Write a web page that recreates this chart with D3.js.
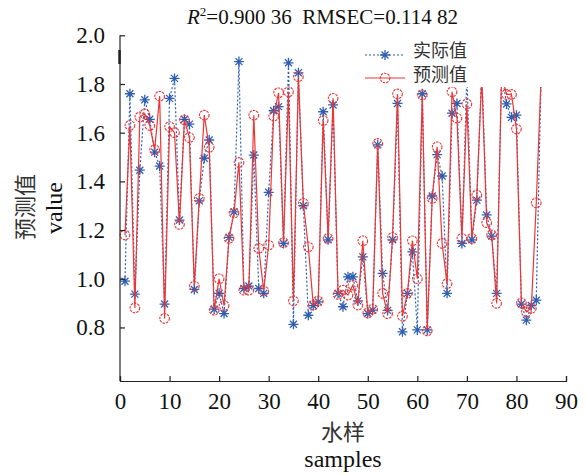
<!DOCTYPE html>
<html><head><meta charset="utf-8">
<script src="https://cdn.jsdelivr.net/npm/d3@7"></script>
<style>body{margin:0;background:#fff}svg{display:block}</style>
</head><body>
<script>
const samples = d3.range(1, 86);
const actual = [0.99,1.76,0.937,1.446,1.735,1.655,1.52,1.463,0.896,1.741,
1.823,1.241,1.655,1.635,0.956,1.32,1.495,1.57,0.875,0.94,
0.857,1.17,1.275,1.892,0.96,0.97,1.508,0.96,0.94,1.355,
1.69,1.707,1.145,1.887,0.813,1.846,1.30,0.85,0.89,0.905,
1.686,1.16,1.714,0.94,0.885,1.008,1.008,0.909,1.09,0.857,
0.871,1.55,1.022,0.87,1.16,1.72,0.782,0.94,1.11,0.79,
1.76,0.79,1.34,1.51,1.422,0.94,1.68,1.72,1.145,1.84,
1.16,1.323,1.86,1.262,1.175,0.94,1.85,1.718,1.663,1.672,
0.896,0.83,0.89,0.912,1.86];
const predicted = [1.18,1.63,0.88,1.665,1.677,1.63,1.53,1.75,0.837,1.625,
1.60,1.223,1.652,1.58,0.97,1.33,1.672,1.54,0.871,1.0,
0.89,1.166,1.27,1.478,0.953,0.953,1.672,1.125,0.95,1.138,
1.668,1.764,1.148,1.768,0.909,1.83,1.31,1.131,0.892,0.909,
1.65,1.166,1.741,0.936,0.953,0.933,0.974,0.892,1.156,0.86,
0.875,1.556,0.94,0.857,1.17,1.759,0.846,0.94,1.156,1.0,
1.755,0.786,1.33,1.542,1.145,0.98,1.768,1.66,1.166,1.718,
1.166,1.344,1.83,1.23,1.18,0.899,1.84,1.757,1.757,1.615,
0.901,0.864,0.878,1.312,1.84];
const xTicks = [0,10,20,30,40,50,60,70,80,90];
const yTicks = [0.8,1.0,1.2,1.4,1.6,1.8,2.0];
const legendLabels = ["实际值","预测值"];
const titleParts = {r2:"0.900 36", rmsec:"0.114 82"};

const W=587,H=475;
const blue="#2f5fb3", red="#ee3535";
const serif="'Liberation Serif','Times New Roman',serif";
const cjk="'Noto Sans CJK SC','Noto Sans CJK JP',sans-serif";
const svg=d3.select("body").append("svg").attr("width",W).attr("height",H);
const x=d3.scaleLinear().domain([0,90]).range([120,566]);
const y=d3.scaleLinear().domain([0.58,2.0]).range([381,35.3]);

// actual series
const lineA=d3.line().x((d,i)=>x(samples[i])).y(d=>y(d));
svg.append("path").datum(actual).attr("d",lineA).attr("fill","none")
 .attr("stroke",blue).attr("stroke-width",1.2).attr("stroke-dasharray","2,2");
function star(g,cx,cy,col){
  const s=5,t=3.5;
  g.append("path").attr("d",`M${cx-s},${cy}H${cx+s}M${cx},${cy-s}V${cy+s}M${cx-t},${cy-t}L${cx+t},${cy+t}M${cx-t},${cy+t}L${cx+t},${cy-t}`)
   .attr("stroke",col).attr("stroke-width",1.3).attr("fill","none");
}
const gA=svg.append("g");
actual.forEach((d,i)=>star(gA,x(samples[i]),y(d),blue));
// predicted
svg.append("path").datum(predicted).attr("d",lineA).attr("fill","none")
 .attr("stroke",red).attr("stroke-width",1.2);
svg.append("g").selectAll("circle").data(predicted).join("circle")
 .attr("cx",(d,i)=>x(samples[i])).attr("cy",d=>y(d)).attr("r",4.8)
 .attr("fill","none").attr("stroke",red).attr("stroke-width",1.1).attr("stroke-dasharray","2.5,1");

// legend (white box covers lines)
svg.append("rect").attr("x",358).attr("y",36).attr("width",209).attr("height",51).attr("fill","#fff");
const lg=svg.append("g");
lg.append("line").attr("x1",365).attr("x2",405).attr("y1",55).attr("y2",55)
 .attr("stroke",blue).attr("stroke-width",1.2).attr("stroke-dasharray","2,2");
star(lg,385,55,blue);
lg.append("line").attr("x1",365).attr("x2",405).attr("y1",78).attr("y2",78)
 .attr("stroke",red).attr("stroke-width",1.2);
lg.append("circle").attr("cx",385).attr("cy",78).attr("r",4.8).attr("fill","none")
 .attr("stroke",red).attr("stroke-width",1.1).attr("stroke-dasharray","2.5,1");
legendLabels.forEach((t,i)=>lg.append("text").attr("x",413).attr("y",57+i*24)
 .attr("font-family",cjk).attr("font-size",18).attr("fill","#333").text(t));

// axes
const ax=svg.append("g").attr("transform","translate(0,381)")
 .call(d3.axisBottom(x).tickValues(xTicks).tickSize(-5).tickPadding(12).tickFormat(d3.format("d")));
const ay=svg.append("g").attr("transform","translate(120,0)")
 .call(d3.axisLeft(y).tickValues(yTicks).tickSize(-5).tickPadding(15).tickFormat(d3.format(".1f")));
[ax,ay].forEach(a=>{a.select(".domain").attr("stroke","#222").attr("stroke-width",1.2);
 a.selectAll(".tick line").attr("stroke","#222").attr("stroke-width",1.2);
 a.selectAll("text").attr("font-family",serif).attr("font-size",23).attr("fill","#111");});
ay.select(".domain").attr("d","M0,35.3V381");
ax.selectAll(".tick text").attr("dy","0.71em");
svg.append("line").attr("x1",119.5).attr("x2",119.5).attr("y1",50).attr("y2",64).attr("stroke","#222").attr("stroke-width",2.5);

// title
const tt=svg.append("text").attr("x",187).attr("y",24).attr("font-family",serif).attr("font-size",21).attr("fill","#111");
tt.append("tspan").attr("font-style","italic").text("R");
tt.append("tspan").attr("font-size",13).attr("dy",-8).text("2");
tt.append("tspan").attr("dy",8).text("=" + titleParts.r2 + "\u00a0\u00a0RMSEC=" + titleParts.rmsec);

// axis titles
svg.append("text").attr("x",343).attr("y",440).attr("text-anchor","middle").attr("font-family",cjk).attr("font-size",22).attr("fill","#333").text("水样");
svg.append("text").attr("x",343).attr("y",467).attr("text-anchor","middle").attr("font-family",serif).attr("font-size",24).attr("fill","#111").text("samples");
svg.append("text").attr("transform","translate(33,207) rotate(-90)").attr("text-anchor","middle").attr("font-family",cjk).attr("font-size",22).attr("fill","#333").text("预测值");
svg.append("text").attr("transform","translate(62,208) rotate(-90)").attr("text-anchor","middle").attr("font-family",serif).attr("font-size",24).attr("fill","#111").text("value");
</script>
</body></html>
